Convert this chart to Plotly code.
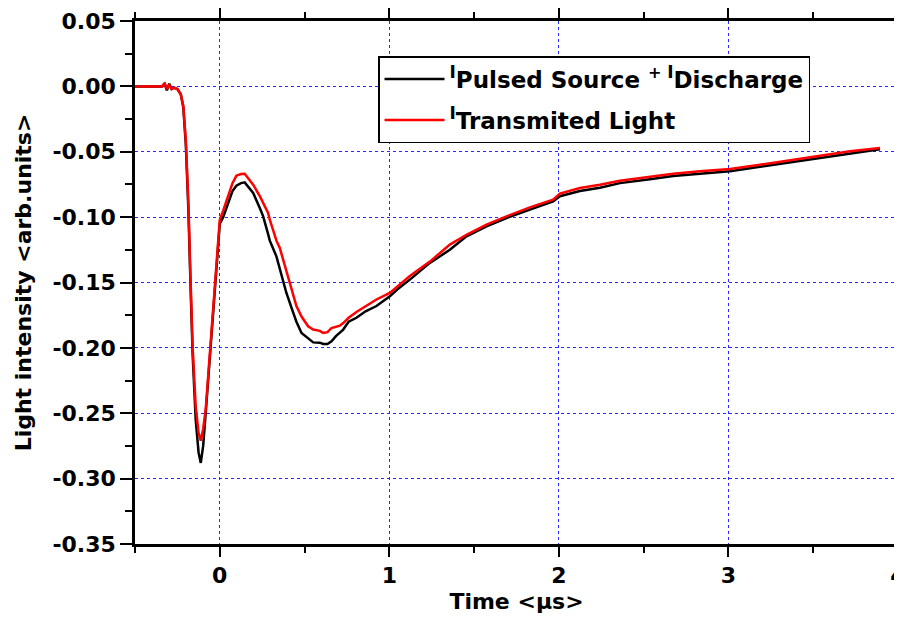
import plotly.graph_objects as go

time_us = [-0.50, -0.34, -0.325, -0.312, -0.298, -0.284, -0.270, -0.250, -0.230, -0.215,
           -0.200, -0.185, -0.173, -0.160, -0.142, -0.125, -0.112, -0.098, -0.083, -0.055,
           -0.025, 0.000, 0.020, 0.049, 0.075, 0.098, 0.125, 0.147, 0.167, 0.197,
           0.236, 0.256, 0.285, 0.295, 0.334, 0.354, 0.383, 0.393, 0.433, 0.452,
           0.482, 0.521, 0.551, 0.590, 0.610, 0.635, 0.659, 0.685, 0.708, 0.728,
           0.760, 0.806, 0.860, 0.924, 1.003, 1.050, 1.121, 1.239, 1.357, 1.455,
           1.573, 1.691, 1.829, 1.966, 2.006, 2.124, 2.242, 2.360, 2.537, 2.674,
           2.832, 3.009, 3.186, 3.363, 3.540, 3.717, 3.894]

i_total = [0.0, 0.0, 0.002, -0.003, 0.002, -0.002, -0.001, -0.002, -0.006, -0.016,
           -0.045, -0.095, -0.150, -0.205, -0.255, -0.280, -0.288, -0.275, -0.250, -0.200,
           -0.150, -0.105, -0.100, -0.089, -0.080, -0.076, -0.074, -0.0734, -0.0765, -0.0815,
           -0.093, -0.0994, -0.113, -0.118, -0.130, -0.140, -0.153, -0.158, -0.173, -0.180,
           -0.1886, -0.193, -0.1958, -0.196, -0.197, -0.197, -0.195, -0.191, -0.1886, -0.186,
           -0.180, -0.177, -0.172, -0.168, -0.1606, -0.155, -0.1478, -0.135, -0.125, -0.1147,
           -0.107, -0.1007, -0.0943, -0.088, -0.084, -0.080, -0.0775, -0.074, -0.071, -0.0685,
           -0.0668, -0.065, -0.0615, -0.058, -0.055, -0.051, -0.048]

i_transmitted = [0.0, 0.0, 0.0025, -0.002, 0.001, -0.002, -0.001, -0.002, -0.006, -0.015,
                 -0.042, -0.090, -0.145, -0.200, -0.245, -0.265, -0.271, -0.262, -0.247, -0.198,
                 -0.148, -0.102, -0.095, -0.083, -0.074, -0.0683, -0.067, -0.0668, -0.070, -0.0752,
                 -0.084, -0.089, -0.0968, -0.102, -0.118, -0.1236, -0.137, -0.1427, -0.160, -0.168,
                 -0.176, -0.1835, -0.186, -0.187, -0.1886, -0.188, -0.1848, -0.184, -0.183, -0.181,
                 -0.177, -0.1725, -0.168, -0.163, -0.158, -0.153, -0.145, -0.134, -0.121, -0.1135,
                 -0.1058, -0.0994, -0.0925, -0.0867, -0.082, -0.0777, -0.0752, -0.0721, -0.0688, -0.0668,
                 -0.065, -0.0632, -0.0599, -0.0566, -0.0535, -0.0497, -0.0471]

x_ticks = [0, 1, 2, 3, 4]
y_ticks = [0.05, 0.00, -0.05, -0.10, -0.15, -0.20, -0.25, -0.30, -0.35]
y_tick_labels = ["0.05", "0.00", "-0.05", "-0.10", "-0.15", "-0.20", "-0.25", "-0.30", "-0.35"]

name_total = ("<sup><span style='font-size:17px'>I</span></sup>Pulsed Source "
              "<sup>+ <span style='font-size:17px'>I</span></sup>Discharge")
name_trans = "<sup><span style='font-size:17px'>I</span></sup>Transmited Light"

FONT = "DejaVu Sans, Arial, sans-serif"

fig = go.Figure()
fig.add_trace(go.Scatter(x=time_us, y=i_total, mode="lines", name=name_total,
                         legendgroup="a",
                         line=dict(color="black", width=2.5)))
fig.add_trace(go.Scatter(x=time_us, y=i_transmitted, mode="lines", name=name_trans,
                         legendgroup="b",
                         line=dict(color="red", width=2.5)))

axis_common = dict(
    showline=True, linecolor="black", linewidth=2.5, mirror="ticks",
    ticks="outside", tickcolor="black", tickwidth=2,
    showgrid=True, gridcolor="rgb(40,40,255)", gridwidth=1, griddash="dot",
    zeroline=False, automargin=False,
    tickfont=dict(family=FONT, size=22, color="black", weight="bold"),
)

# the page body adds an 8px offset, so the figure is 8px smaller on each axis
fig.update_layout(
    width=894, height=611,
    margin=dict(l=127, r=4, t=13, b=75),
    paper_bgcolor="white", plot_bgcolor="white",
    font=dict(family=FONT, color="black"),
    showlegend=True,
    legend=dict(
        x=0.3185, y=0.933, xanchor="left", yanchor="top",
        bgcolor="white", bordercolor="black", borderwidth=1.5,
        font=dict(family=FONT, size=23, color="black", weight="bold"),
        itemwidth=60, tracegroupgap=8,
    ),
    xaxis=dict(
        range=[-0.5, 4.0], tickvals=x_ticks, ticklen=10, ticklabeloverflow="allow",
        minor=dict(dtick=0.5, tick0=0, ticks="outside", ticklen=6, tickwidth=2,
                   tickcolor="black", showgrid=False),
        title=dict(text="Time &lt;μs&gt;", standoff=7,
                   font=dict(family=FONT, size=22, color="black", weight="bold")),
        **axis_common,
    ),
    yaxis=dict(
        range=[-0.35, 0.05], tickvals=y_ticks, ticktext=y_tick_labels, ticklen=12,
        minor=dict(dtick=0.025, tick0=0, ticks="outside", ticklen=7, tickwidth=2,
                   tickcolor="black", showgrid=False),
        title=dict(text="Light intensity &lt;arb.units&gt;", standoff=15,
                   font=dict(family=FONT, size=22, color="black", weight="bold")),
        **axis_common,
    ),
)

fig.write_html("out.html")
